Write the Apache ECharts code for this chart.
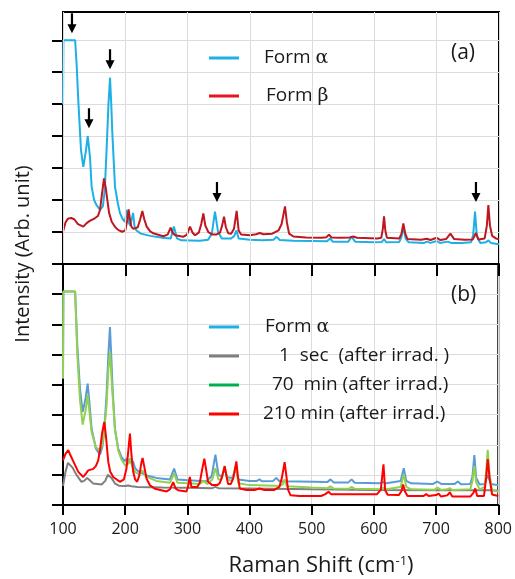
<!DOCTYPE html>
<html>
<head>
<meta charset="utf-8">
<script src="https://cdn.jsdelivr.net/npm/echarts@6/dist/echarts.min.js"></script>
<style>html,body{margin:0;padding:0;background:#fff}#c{width:515px;height:579px}</style>
</head>
<body>
<div id="c"></div>
<script>
// ---------- data (x: Raman shift cm-1, y: intensity in tick units) ----------
const xTicks = [100, 200, 300, 400, 500, 600, 700, 800];
const yTicksTop = [0, 1, 2, 3, 4, 5, 6, 7];
const seriesNamesA = ['Form α', 'Form β'];
const seriesNamesB = ['Form α', '1  sec  (after irrad. )', '70  min (after irrad.)', '210 min (after irrad.)'];

const formAlphaA = [[100,5.0],[100.6,7.0],[119.5,7.0],[122,6.2],[124.6,5.1],[128.9,3.56],[132.6,3.04],[136.5,3.5],[139.7,4.0],[143.3,3.35],[146,2.42],[150,2.0],[154,1.84],[159.4,1.69],[164,1.8],[167,2.3],[170,3.58],[173,5.0],[175.5,5.83],[177.5,5.0],[179.2,4.09],[183.5,2.42],[188,1.9],[191.5,1.59],[196,1.40],[199.5,1.32],[202.2,1.69],[205,1.32],[208,1.2],[212.5,1.6],[215,1.15],[218,1.05],[225,0.95],[240,0.88],[260,0.82],[273,0.8],[278,1.17],[283,0.8],[290,0.74],[320,0.73],[333,0.76],[339,0.95],[344,1.64],[349,1.0],[355,0.8],[370,0.8],[375,0.88],[378.5,1.05],[382,0.8],[400,0.76],[420,0.74],[438,0.76],[443,0.85],[448,0.75],[470,0.73],[500,0.72],[524,0.71],[528.7,0.8],[533,0.7],[558,0.7],[563.5,0.85],[569,0.7],[600,0.68],[612,0.69],[615.4,0.78],[619,0.68],[640,0.69],[643.5,0.85],[646.5,1.17],[650,0.8],[655,0.68],[680,0.66],[684,0.7],[690,0.66],[700,0.72],[705,0.66],[718,0.7],[723,0.66],[740,0.66],[755,0.68],[758.5,0.9],[761.5,1.64],[764.5,0.85],[770,0.66],[779,0.68],[783,0.74],[787,0.66],[800,0.62]];

const formBetaA = [[100,1.01],[104,1.3],[108,1.42],[113,1.44],[118,1.4],[124,1.25],[132.6,1.17],[138,1.28],[143,1.35],[151,1.43],[156,1.5],[159.4,1.69],[162,2.1],[165.8,2.68],[168.5,2.4],[171.2,2.0],[174,1.6],[178.2,1.32],[184,1.15],[189,1.06],[195,1.01],[200,1.05],[203,1.35],[205.4,1.71],[207.5,1.4],[209.7,1.17],[213,1.1],[216,1.08],[220,1.15],[224,1.4],[227.4,1.66],[230.5,1.4],[234.4,1.17],[240,1.02],[245,0.96],[261,0.87],[268,0.92],[272.8,1.14],[276,0.98],[280,0.9],[293,0.85],[299,0.92],[303.9,1.17],[308,0.98],[312,0.9],[318,0.98],[322,1.25],[325.3,1.58],[328.5,1.2],[333.3,1.0],[340,0.92],[346,0.92],[352,0.98],[355.5,1.2],[358.5,1.48],[361.5,1.15],[365.4,0.96],[370,0.95],[374.5,1.1],[378.8,1.66],[382,1.05],[386,0.92],[400,0.9],[410,0.93],[416,0.97],[422,0.93],[436,0.95],[446,1.05],[451,1.25],[456.4,1.80],[459.5,1.3],[463,0.95],[470,0.86],[490,0.83],[515,0.82],[523,0.84],[527,0.92],[531,0.83],[545,0.82],[560,0.83],[566,0.86],[572,0.82],[605,0.80],[611,0.82],[613.5,1.1],[615.4,1.49],[617.5,1.05],[620,0.82],[640,0.80],[643.5,0.95],[646.4,1.27],[649.5,0.95],[653,0.78],[675,0.76],[684,0.79],[690,0.75],[700,0.82],[706,0.75],[715,0.78],[722,0.95],[728,0.78],[745,0.76],[758,0.77],[763,0.97],[767,0.77],[777,0.8],[780.5,1.2],[782.9,1.84],[785.5,1.2],[789,0.88],[795,0.8],[800,0.77]];

const formAlphaB = [[100,4.2],[100.6,7.09],[119.5,7.09],[123,5.3],[127.3,3.86],[131.6,3.09],[136,3.5],[139.7,4.03],[142.5,3.4],[146,2.53],[153,1.87],[159.4,1.67],[163,1.9],[165.8,2.32],[170,3.64],[173,5.0],[175.5,5.91],[177.5,5.0],[179.8,3.86],[183.5,2.53],[188.8,1.87],[194.2,1.59],[199.5,1.45],[202.5,1.55],[205.5,1.4],[208.6,1.34],[212.5,1.45],[216,1.22],[221,1.12],[235,0.98],[250,0.90],[272,0.85],[278.7,1.21],[284,0.85],[300,0.82],[330,0.79],[339,0.95],[345.1,1.67],[350,1.0],[355,0.95],[360,1.18],[364,0.92],[372,0.9],[378,1.2],[382,0.85],[400,0.8],[412,0.8],[416,0.85],[420,0.79],[438,0.8],[443,0.9],[448,0.79],[480,0.78],[525,0.76],[530.3,0.85],[535,0.75],[559,0.75],[564,0.85],[569,0.74],[610,0.72],[615,0.76],[620,0.72],[643,0.8],[648,1.22],[652,0.8],[660,0.72],[695,0.70],[702,0.78],[708,0.70],[730,0.70],[735,0.78],[740,0.69],[755,0.7],[758.5,0.95],[761.5,1.66],[764.5,0.9],[770,0.68],[778,0.7],[783,1.0],[788,0.7],[800,0.66]];

const sec1B = [[100,0.63],[104,1.1],[108,1.4],[111,1.45],[115,1.25],[121.7,1.0],[129.7,0.77],[134,0.8],[138.8,0.9],[143,0.82],[148.7,0.71],[162,0.68],[168,0.8],[172,1.0],[174.9,1.06],[178,0.9],[183.5,0.71],[190,0.64],[200,0.63],[205,0.65],[210,0.62],[213,0.64],[220,0.6],[260,0.58],[300,0.57],[340,0.56],[345,0.6],[350,0.56],[400,0.55],[500,0.52],[600,0.5],[700,0.49],[760,0.49],[763,0.52],[766,0.49],[780,0.49],[783,0.54],[786,0.49],[800,0.47]];

const min70B = [[100,4.2],[100.6,7.09],[119.5,7.09],[123,5.0],[127.3,3.5],[131.6,2.67],[136,3.1],[139.7,3.66],[142.5,3.1],[146,2.42],[153,1.92],[159.4,1.81],[163,2.0],[166,2.4],[170,3.3],[173,4.5],[175.5,5.1],[177.5,4.4],[179.8,3.64],[183.5,2.53],[188.8,1.81],[194.2,1.5],[200,1.31],[204,1.35],[207.6,1.55],[211,1.3],[216,1.1],[222,1.02],[228,1.15],[233,0.95],[250,0.8],[272,0.74],[278.7,1.05],[284,0.74],[300,0.72],[320,0.70],[326,0.8],[332,0.7],[340,0.85],[345.1,1.22],[350,0.85],[355,0.85],[360,1.3],[364,0.85],[372,0.8],[378,1.3],[382,0.72],[400,0.66],[440,0.64],[443,0.7],[448,0.63],[453,0.68],[456.4,0.85],[460,0.62],[500,0.58],[525,0.56],[530,0.62],[535,0.55],[560,0.54],[564,0.6],[569,0.54],[610,0.52],[615.4,0.58],[620,0.52],[643,0.6],[648,1.02],[652,0.6],[660,0.52],[698,0.51],[702,0.58],[708,0.5],[718,0.52],[722,0.56],[726,0.5],[755,0.52],[758.5,0.8],[761.5,1.29],[764.5,0.75],[770,0.52],[778,0.6],[780.5,1.1],[783,1.83],[786,1.0],[790,0.5],[800,0.44]];

const min210B = [[100,1.48],[104,1.7],[108.5,1.82],[112,1.65],[116.6,1.45],[120,1.3],[124.6,1.1],[132.6,0.93],[137,1.05],[140.6,1.15],[148.7,1.2],[153,1.3],[156.7,1.48],[160,1.9],[163,2.4],[166.4,2.76],[169,2.3],[172.8,1.43],[176,1.1],[180.8,0.93],[191.5,0.77],[198,0.85],[202,1.2],[205,1.8],[207.6,2.37],[210,1.7],[212.9,1.1],[216,0.85],[219.3,0.77],[223,1.0],[226,1.4],[228,1.56],[230.5,1.3],[234.4,0.87],[240,0.65],[247.7,0.54],[266.5,0.45],[272,0.52],[277.1,0.76],[281,0.55],[285,0.49],[298.6,0.45],[301,0.6],[303.9,0.93],[306.5,0.6],[309.2,0.55],[316,0.6],[320,0.75],[324,1.2],[327.3,1.54],[330,1.2],[333.3,0.77],[340,0.66],[348,0.66],[352,0.72],[356,0.95],[360,1.29],[363,0.95],[365.4,0.7],[370,0.7],[374,0.9],[378.8,1.45],[381,1.0],[384.2,0.55],[395,0.5],[408,0.5],[416,0.55],[424,0.5],[440,0.5],[448,0.6],[452,0.9],[456.4,1.42],[459,1.0],[462,0.5],[466,0.32],[480,0.3],[515,0.3],[522,0.36],[527,0.44],[531,0.36],[545,0.36],[575,0.36],[605,0.36],[611,0.5],[615.4,1.35],[618,0.5],[622,0.34],[640,0.33],[644,0.45],[647,0.68],[650,0.45],[654,0.3],[680,0.3],[684,0.36],[688,0.3],[700,0.33],[704,0.38],[708,0.28],[718,0.32],[722,0.42],[726,0.28],[755,0.28],[760,0.4],[763,0.55],[766,0.3],[777,0.3],[780.5,0.9],[783,1.52],[786,0.9],[790,0.35],[800,0.3]];

// arrow annotations (tip positions, data coords of panel a)
const arrowTips = [[114.4, 7.22], [141.7, 4.25], [175.5, 6.09], [347.2, 1.94], [763.0, 1.94]];

// ---------- styling ----------
const FONT = 'Open Sans';
const TXT = '#1a1a1a';
const GRIDC = '#dcdcdc';
const textPad = {'Form α': 20, 'Form β': 22};
const textPadB = {'Form α': 21, '1  sec  (after irrad. )': 35, '70  min (after irrad.)': 28, '210 min (after irrad.)': 19};

function richFor() {
  const r = {g: {fontFamily: 'DejaVu Serif', fontSize: 19, color: TXT, lineHeight: 22}};
  for (let w = 15; w <= 40; w++) r['w' + w] = {width: w, lineHeight: 22};
  return r;
}
function fmt(pads) {
  return function (name) {
    const body = name.replace(/([αβ])/g, '{g|$1}');
    return '{w' + pads[name] + '| }' + body;
  };
}

const axisLineStyle = {color: '#000', width: 2};

const option = {
  animation: false,
  backgroundColor: '#fff',
  grid: [
    {left: 63, right: 16, top: 12, height: 252, show: true, borderColor: '#000', borderWidth: 2, backgroundColor: 'transparent'},
    {left: 63, right: 16, top: 264, height: 241, show: true, borderColor: '#000', borderWidth: 2, backgroundColor: 'transparent'}
  ],
  xAxis: [
    {gridIndex: 0, type: 'value', min: xTicks[0], max: xTicks[xTicks.length - 1], interval: 100,
     axisLine: {lineStyle: axisLineStyle}, axisTick: {length: 12, lineStyle: {color: '#000', width: 2}},
     axisLabel: {show: false}, splitLine: {show: true, lineStyle: {color: GRIDC, width: 1}}, z: 5},
    {gridIndex: 1, type: 'value', min: xTicks[0], max: xTicks[xTicks.length - 1], interval: 100,
     axisLine: {lineStyle: axisLineStyle}, axisTick: {length: 10, lineStyle: {color: '#000', width: 2}},
     axisLabel: {show: true, fontSize: 16, fontFamily: FONT, color: TXT, margin: 16},
     splitLine: {show: true, lineStyle: {color: GRIDC, width: 1}}}
  ],
  yAxis: [
    {gridIndex: 0, type: 'value', min: 0, max: 7.885, interval: 1,
     axisLine: {show: true, lineStyle: axisLineStyle},
     axisTick: {show: true, length: 11, customValues: yTicksTop, lineStyle: {color: '#000', width: 2}},
     axisLabel: {show: false}, splitLine: {show: true, lineStyle: {color: GRIDC, width: 1}}},
    {gridIndex: 1, type: 'value', min: 0, max: 8, interval: 1,
     axisLine: {show: true, lineStyle: axisLineStyle},
     axisTick: {show: true, length: 11, lineStyle: {color: '#000', width: 2}},
     axisLabel: {show: false}, splitLine: {show: true, lineStyle: {color: GRIDC, width: 1}}}
  ],
  title: [
    {text: '(a)', left: 451, top: 43, padding: 0, textStyle: {fontSize: 21, fontWeight: 'normal', fontFamily: FONT, color: TXT}},
    {text: '(b)', left: 451, top: 285, padding: 0, textStyle: {fontSize: 21, fontWeight: 'normal', fontFamily: FONT, color: TXT}}
  ],
  legend: [
    {orient: 'vertical', left: 209, top: 47, padding: 0, itemWidth: 30, itemHeight: 3, itemGap: 16, icon: 'rect',
     data: [{name: seriesNamesA[0], itemStyle: {color: '#1cb0e6'}}, {name: seriesNamesA[1], itemStyle: {color: '#e8141c'}}],
     formatter: fmt(textPad),
     textStyle: {fontSize: 19, fontFamily: FONT, color: TXT, lineHeight: 22, rich: richFor()}},
    {orient: 'vertical', left: 209, top: 316, padding: 0, itemWidth: 30, itemHeight: 3, itemGap: 7, icon: 'rect',
     data: [{name: seriesNamesB[0], itemStyle: {color: '#1cb0e6'}}, {name: seriesNamesB[1], itemStyle: {color: '#7f7f7f'}},
            {name: seriesNamesB[2], itemStyle: {color: '#00b050'}}, {name: seriesNamesB[3], itemStyle: {color: '#ff0000'}}],
     formatter: fmt(textPadB),
     textStyle: {fontSize: 19, fontFamily: FONT, color: TXT, lineHeight: 22, rich: richFor()}}
  ],
  graphic: [
    {type: 'text', x: 23, y: 254, rotation: Math.PI / 2,
     style: {text: 'Intensity (Arb. unit)', fontSize: 20, fontFamily: FONT, fill: TXT, align: 'center', verticalAlign: 'middle'}},
    {type: 'text', x: 321, y: 566,
     style: {text: 'Raman Shift (cm{s|-1})', fontSize: 22, fontFamily: FONT, fill: TXT, align: 'center', verticalAlign: 'middle',
             rich: {s: {fontSize: 13, fontFamily: FONT, fill: TXT, verticalAlign: 'top', padding: [0, 0, 10, 0]}}}}
  ],
  series: [
    {name: seriesNamesA[0], type: 'line', xAxisIndex: 0, yAxisIndex: 0, data: formAlphaA, symbol: 'none',
     lineStyle: {color: '#1cb0e6', width: 2}, itemStyle: {color: '#1cb0e6'},
     markPoint: {symbol: 'path://M3.4,0 L5.6,0 L5.6,11 L9,11 L4.5,20 L0,11 L3.4,11 Z', symbolSize: [9, 20], symbolOffset: [0, '-50%'],
                 itemStyle: {color: '#000'}, label: {show: false}, silent: true,
                 data: arrowTips.map(c => ({coord: c}))}},
    {name: seriesNamesA[1], type: 'line', xAxisIndex: 0, yAxisIndex: 0, data: formBetaA, symbol: 'none',
     lineStyle: {color: '#c0161f', width: 2}, itemStyle: {color: '#c0161f'}},
    {name: seriesNamesB[0], type: 'line', xAxisIndex: 1, yAxisIndex: 1, data: formAlphaB, symbol: 'none',
     lineStyle: {color: '#5b9bd5', width: 2}, itemStyle: {color: '#5b9bd5'}},
    {name: seriesNamesB[1], type: 'line', xAxisIndex: 1, yAxisIndex: 1, data: sec1B, symbol: 'none',
     lineStyle: {color: '#7f7f7f', width: 2}, itemStyle: {color: '#7f7f7f'}},
    {name: seriesNamesB[2], type: 'line', xAxisIndex: 1, yAxisIndex: 1, data: min70B, symbol: 'none',
     lineStyle: {color: '#92d050', width: 2}, itemStyle: {color: '#92d050'}},
    {name: seriesNamesB[3], type: 'line', xAxisIndex: 1, yAxisIndex: 1, data: min210B, symbol: 'none',
     lineStyle: {color: '#ff0000', width: 2}, itemStyle: {color: '#ff0000'}}
  ]
};

const chart = echarts.init(document.getElementById('c'), null, {renderer: 'canvas'});
chart.setOption(option);
</script>
</body>
</html>
